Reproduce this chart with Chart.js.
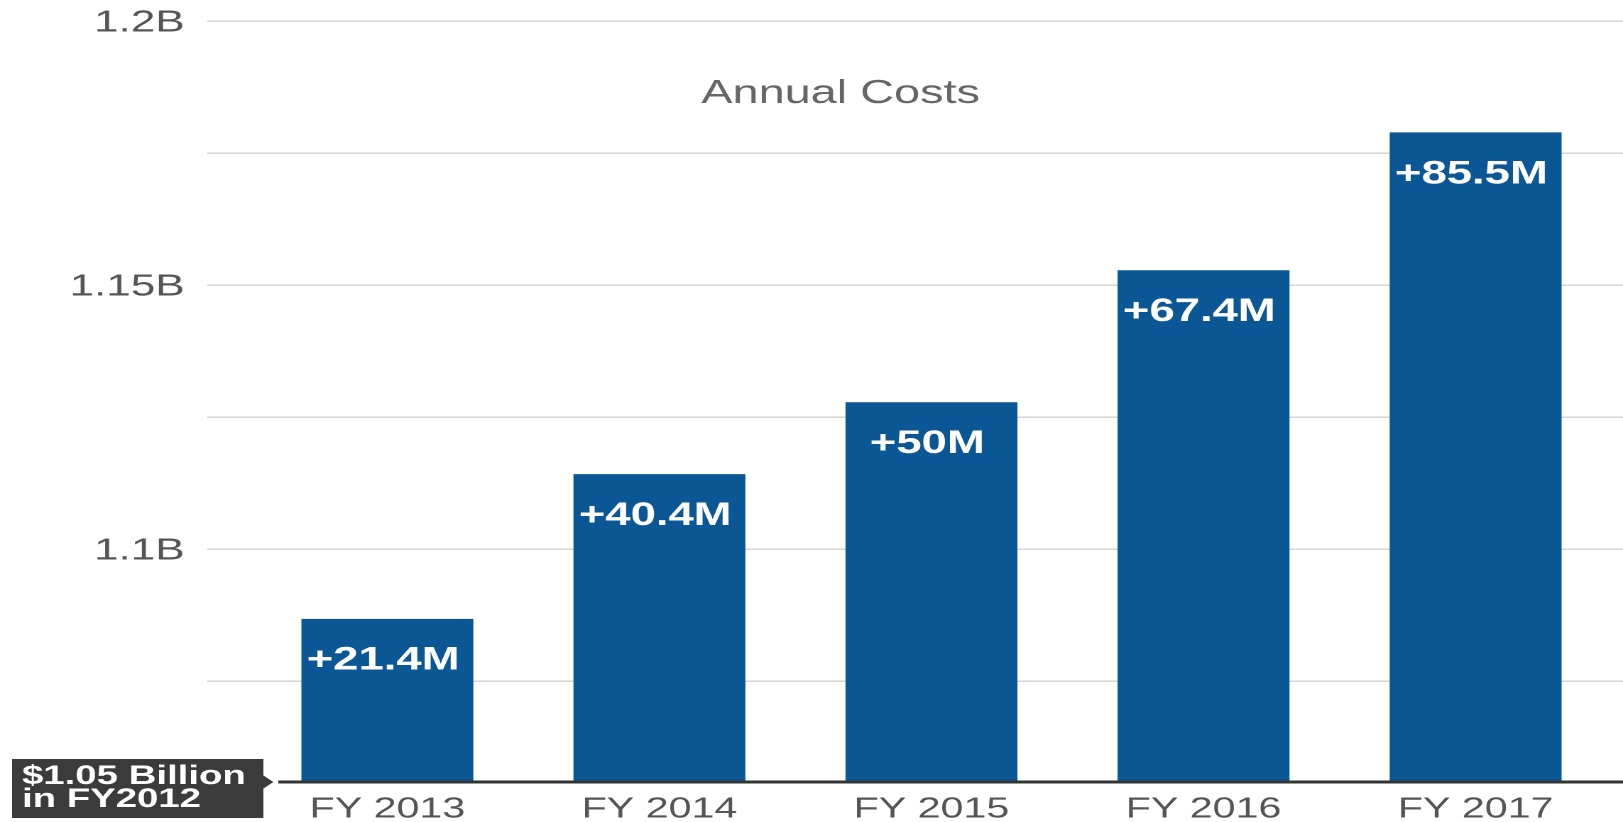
<!DOCTYPE html>
<html>
<head>
<meta charset="utf-8">
<script src="https://cdn.jsdelivr.net/npm/chart.js@4/dist/chart.umd.min.js"></script>
<style>
  html, body { margin: 0; padding: 0; background: #fff; overflow: hidden; }
  #chart { display: block; }
</style>
</head>
<body>
<!-- drawn narrower and stretched sideways, like the original picture -->
<canvas id="chart" width="1143" height="822" style="width:1623px;height:822px"></canvas>
<script>
var categories = ["FY 2013", "FY 2014", "FY 2015", "FY 2016", "FY 2017"];
var costs = [1.0868, 1.1142, 1.1278, 1.1528, 1.1789];   // billions
var deltaLabels = ["+21.4M", "+40.4M", "+50M", "+67.4M", "+85.5M"];
var gridValues = [1.075, 1.1, 1.125, 1.15, 1.175, 1.2];
var yTickValues = [1.1, 1.15, 1.2];
var yTickLabels = ["1.1B", "1.15B", "1.2B"];
var baseLabel = ["$1.05 Billion", "in FY2012"];
var chartTitle = "Annual Costs";

var FONT = "'Liberation Sans', Arial, Helvetica, sans-serif";
var barColor = "#0b5796";

var extras = {
  id: "extras",
  beforeDatasetsDraw(chart) {
    let c = chart.ctx;
    let y = chart.scales.y;
    c.save();
    c.strokeStyle = "#d6d6d6";
    c.lineWidth = 1.5;
    gridValues.forEach(v => {
      let py = Math.round(y.getPixelForValue(v)) + 0.25;
      c.beginPath();
      c.moveTo(146, py);
      c.lineTo(chart.width, py);
      c.stroke();
    });
    // title inside plot
    c.fillStyle = "#666";
    c.font = "33px " + FONT;
    c.textAlign = "center";
    c.textBaseline = "middle";
    c.fillText(chartTitle, 592, 94);
    c.restore();
  },
  afterDatasetsDraw(chart) {
    let c = chart.ctx;
    let area = chart.chartArea;
    let meta = chart.getDatasetMeta(0);
    c.save();
    // baseline
    c.strokeStyle = "#333";
    c.lineWidth = 3;
    c.beginPath();
    c.moveTo(196, area.bottom);
    c.lineTo(chart.width, area.bottom);
    c.stroke();

    // value labels
    c.fillStyle = "#fff";
    c.font = "bold 32px " + FONT;
    c.textAlign = "center";
    c.textBaseline = "middle";
    meta.data.forEach((bar, i) => {
      c.fillText(deltaLabels[i], bar.x - 3, bar.y + 42);
    });

    // starting point box
    c.fillStyle = "#3b3b3b";
    c.fillRect(8.5, 759, 177, 59);
    c.beginPath();
    c.moveTo(185, area.bottom - 7);
    c.lineTo(192.5, area.bottom);
    c.lineTo(185, area.bottom + 7);
    c.closePath();
    c.fill();
    c.fillStyle = "#fff";
    c.font = "bold 27px " + FONT;
    c.textAlign = "left";
    c.textBaseline = "alphabetic";
    c.fillText(baseLabel[0], 15.5, 784);
    c.fillText(baseLabel[1], 15.5, 807);
    c.restore();
  }
};

var ctx = document.getElementById("chart").getContext("2d");
new Chart(ctx, {
  type: "bar",
  data: {
    labels: categories,
    datasets: [{
      data: costs,
      backgroundColor: barColor,
      barPercentage: 0.632,
      categoryPercentage: 1
    }]
  },
  options: {
    responsive: false,
    devicePixelRatio: 2,
    animation: false,
    layout: { padding: { top: 21, right: 8, left: 0, bottom: 0 } },
    plugins: {
      legend: { display: false },
      tooltip: { enabled: false },
      title: { display: false }
    },
    scales: {
      x: {
        grid: { display: false, drawTicks: true, tickLength: 10 },
        border: { display: false },
        ticks: {
          color: "#555",
          font: { family: FONT, size: 29 },
          padding: 0,
          maxRotation: 0
        },
        afterFit(scale) { scale.height = 40; }
      },
      y: {
        min: 1.0559,
        max: 1.2,
        grid: { display: false, drawTicks: true, tickLength: 47 },
        border: { display: false },
        afterBuildTicks(scale) {
          scale.ticks = gridValues.map(v => ({ value: v }));
        },
        ticks: {
          color: "#555",
          font: { family: FONT, size: 31 },
          padding: 0,
          labelOffset: 2,
          callback(v) {
            let i = yTickValues.findIndex(t => Math.abs(t - v) < 1e-6);
            return i >= 0 ? yTickLabels[i] : "";
          }
        },
        afterFit(scale) { scale.width = 177; }
      }
    }
  },
  plugins: [extras]
});
</script>
</body>
</html>
